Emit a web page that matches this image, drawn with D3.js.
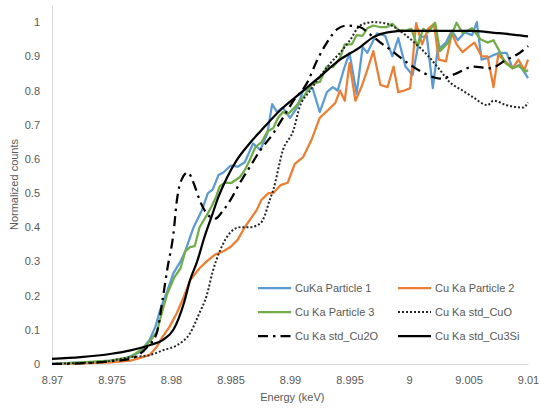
<!DOCTYPE html>
<html>
<head>
<meta charset="utf-8">
<script src="https://cdn.jsdelivr.net/npm/d3@7"></script>
<style>
  body { margin: 0; background: #fff; }
  svg text { font-family: "Liberation Sans", Arial, sans-serif; fill: #595959; }
</style>
</head>
<body>
<svg id="chart" width="540" height="408"></svg>
<script>
/* global d3 */

// [energy keV, normalized counts]
const particle1 = [
  [8.97, 0], [8.9715, 0.003], [8.9732, 0.005], [8.9749, 0.01], [8.9761, 0.015],
  [8.9774, 0.035], [8.9782, 0.07], [8.9787, 0.11], [8.9791, 0.16], [8.9797, 0.215],
  [8.9802, 0.265], [8.9808, 0.30], [8.9812, 0.33], [8.9819, 0.40], [8.9826, 0.45],
  [8.9831, 0.50], [8.9835, 0.51], [8.984, 0.553], [8.9844, 0.56], [8.985, 0.58],
  [8.9856, 0.577], [8.9862, 0.59], [8.9869, 0.645], [8.9875, 0.626], [8.9881, 0.675],
  [8.9885, 0.76], [8.9889, 0.737], [8.9894, 0.75], [8.99, 0.72], [8.9906, 0.75],
  [8.9911, 0.80], [8.9919, 0.806], [8.9925, 0.737], [8.9931, 0.795], [8.9936, 0.81],
  [8.994, 0.80], [8.9946, 0.87], [8.995, 0.91], [8.9956, 0.79], [8.9961, 0.927],
  [8.9965, 0.91], [8.9973, 0.967], [8.998, 0.96], [8.9986, 0.90], [8.9991, 0.953],
  [8.9997, 0.87], [9.0003, 0.845], [9.0009, 0.955], [9.0015, 0.96], [9.002, 0.807],
  [9.0024, 0.918], [9.0031, 0.94], [9.0036, 0.975], [9.0041, 0.947], [9.0047, 0.97],
  [9.0053, 0.962], [9.0057, 1.0], [9.0061, 0.89], [9.0066, 0.895], [9.0072, 0.905],
  [9.0076, 0.91], [9.0082, 0.91], [9.0087, 0.865], [9.0093, 0.875], [9.01, 0.836],
];

const particle2 = [
  [8.97, 0], [8.9724, 0.002], [8.9749, 0.005], [8.9766, 0.01], [8.9782, 0.026],
  [8.9788, 0.05], [8.9793, 0.08], [8.9799, 0.11], [8.9805, 0.15], [8.981, 0.19],
  [8.9816, 0.245], [8.9824, 0.28], [8.983, 0.30], [8.9837, 0.32], [8.9844, 0.33],
  [8.985, 0.342], [8.9856, 0.363], [8.9862, 0.40], [8.9868, 0.43], [8.9872, 0.45],
  [8.9876, 0.48], [8.9882, 0.50], [8.9886, 0.50], [8.9892, 0.523], [8.9898, 0.53],
  [8.9904, 0.585], [8.9911, 0.605], [8.9918, 0.655], [8.9925, 0.72], [8.9932, 0.743],
  [8.9938, 0.763], [8.9942, 0.80], [8.9946, 0.77], [8.995, 0.88], [8.9955, 0.77],
  [8.996, 0.81], [8.9965, 0.86], [8.997, 0.915], [8.9976, 0.816], [8.9982, 0.81],
  [8.9987, 0.87], [8.9991, 0.795], [8.9996, 0.80], [9.0001, 0.807], [9.0006, 0.997],
  [9.0011, 0.935], [9.0016, 0.98], [9.0021, 0.995], [9.0025, 0.89], [9.0031, 0.885],
  [9.0036, 0.968], [9.004, 0.935], [9.0045, 0.912], [9.005, 0.927], [9.0055, 0.94],
  [9.0061, 0.90], [9.0066, 0.90], [9.0071, 0.81], [9.0075, 0.905], [9.0081, 0.885],
  [9.0087, 0.865], [9.0092, 0.89], [9.0097, 0.86], [9.01, 0.89],
];

const particle3 = [
  [8.97, 0], [8.9724, 0.005], [8.9749, 0.01], [8.9766, 0.02], [8.9774, 0.04],
  [8.9782, 0.065], [8.9788, 0.094], [8.9793, 0.158], [8.9797, 0.207], [8.9803, 0.255],
  [8.9808, 0.28], [8.9812, 0.33], [8.9816, 0.342], [8.982, 0.345], [8.9824, 0.40],
  [8.983, 0.435], [8.9834, 0.46], [8.9838, 0.49], [8.9841, 0.52], [8.9845, 0.53],
  [8.9851, 0.53], [8.9858, 0.547], [8.9862, 0.567], [8.9866, 0.595], [8.9871, 0.635],
  [8.9876, 0.648], [8.9881, 0.68], [8.9886, 0.69], [8.989, 0.72], [8.9894, 0.737],
  [8.9898, 0.73], [8.9904, 0.75], [8.991, 0.775], [8.9915, 0.80], [8.9919, 0.82],
  [8.9925, 0.825], [8.9931, 0.87], [8.9936, 0.868], [8.9942, 0.895], [8.9946, 0.935],
  [8.9952, 0.935], [8.9956, 0.962], [8.9961, 0.96], [8.9965, 0.982], [8.997, 0.99],
  [8.9976, 0.985], [8.9981, 0.985], [8.9986, 0.995], [8.9991, 0.977], [8.9997, 0.975],
  [9.0002, 0.98], [9.0007, 0.93], [9.0012, 0.98], [9.0016, 0.97], [9.0022, 0.998],
  [9.0026, 0.915], [9.0033, 0.94], [9.004, 0.998], [9.0045, 0.968], [9.0053, 0.982],
  [9.006, 0.95], [9.0066, 0.94], [9.0071, 0.947], [9.0076, 0.915], [9.0081, 0.88],
  [9.0087, 0.865], [9.0092, 0.872], [9.0098, 0.855], [9.01, 0.86],
];

const stdCuO = [
  [8.97, 0], [8.9724, 0.003], [8.974, 0.005], [8.9766, 0.02], [8.9782, 0.026],
  [8.9793, 0.04], [8.9805, 0.055], [8.9816, 0.09], [8.9824, 0.15], [8.983, 0.2],
  [8.9835, 0.27], [8.9841, 0.33], [8.985, 0.385], [8.9858, 0.40], [8.9866, 0.40],
  [8.9872, 0.405], [8.9877, 0.42], [8.9883, 0.48], [8.9886, 0.51], [8.9894, 0.625],
  [8.9903, 0.685], [8.9908, 0.75], [8.9917, 0.80], [8.9925, 0.84], [8.9934, 0.88],
  [8.9942, 0.91], [8.995, 0.945], [8.9959, 0.99], [8.997, 1.0], [8.9982, 0.995],
  [8.9992, 0.975], [9.0003, 0.945], [9.0015, 0.905], [9.0026, 0.86], [9.0034, 0.825],
  [9.0045, 0.80], [9.0054, 0.78], [9.0066, 0.757], [9.0071, 0.77], [9.0082, 0.757],
  [9.0096, 0.75], [9.01, 0.765],
];

const stdCu2O = [
  [8.97, 0], [8.9724, 0.002], [8.975, 0.008], [8.9766, 0.015], [8.978, 0.05],
  [8.9788, 0.09], [8.9793, 0.19], [8.9797, 0.28], [8.9802, 0.38], [8.9805, 0.48],
  [8.9809, 0.54], [8.9814, 0.56], [8.982, 0.52], [8.9824, 0.48], [8.9833, 0.43],
  [8.9837, 0.425], [8.9843, 0.445], [8.985, 0.48], [8.9858, 0.53], [8.9866, 0.575],
  [8.9875, 0.625], [8.9886, 0.675], [8.9894, 0.72], [8.9903, 0.77], [8.9914, 0.82],
  [8.9923, 0.89], [8.9931, 0.94], [8.994, 0.98], [8.9948, 0.99], [8.9959, 0.985],
  [8.9967, 0.965], [8.9976, 0.94], [8.9984, 0.92], [8.9999, 0.88], [9.0013, 0.85],
  [9.0026, 0.835], [9.004, 0.85], [9.0054, 0.87], [9.0068, 0.865], [9.0082, 0.89],
  [9.0093, 0.91], [9.01, 0.93],
];

const stdCu3Si = [
  [8.97, 0.015], [8.9724, 0.02], [8.975, 0.03], [8.9766, 0.04], [8.9782, 0.055],
  [8.9793, 0.07], [8.9802, 0.10], [8.9811, 0.18], [8.9816, 0.245], [8.9822, 0.30],
  [8.9828, 0.37], [8.9834, 0.43], [8.984, 0.49], [8.9847, 0.545], [8.9855, 0.595],
  [8.9866, 0.645], [8.9875, 0.68], [8.9892, 0.743], [8.9908, 0.79], [8.9925, 0.84],
  [8.9942, 0.89], [8.9959, 0.927], [8.997, 0.956], [8.9982, 0.97], [8.9998, 0.974],
  [9.0051, 0.974], [9.0074, 0.968], [9.0096, 0.96], [9.01, 0.958],
];

const seriesNames = [
  'CuKa Particle 1', 'Cu Ka Particle 2', 'Cu Ka Particle 3',
  'Cu Ka std_CuO', 'Cu Ka std_Cu2O', 'Cu Ka std_Cu3Si',
];

const xTicks = [8.97, 8.975, 8.98, 8.985, 8.99, 8.995, 9, 9.005, 9.01];
const yTicks = [0, 0.1, 0.2, 0.3, 0.4, 0.5, 0.6, 0.7, 0.8, 0.9, 1];

// styling per series (Excel look)
const series = [
  { name: seriesNames[0], values: particle1, color: '#5b9bd5', dash: null, curve: d3.curveLinear },
  { name: seriesNames[1], values: particle2, color: '#ed7d31', dash: null, curve: d3.curveLinear },
  { name: seriesNames[2], values: particle3, color: '#70ad47', dash: null, curve: d3.curveLinear },
  { name: seriesNames[3], values: stdCuO, color: '#262626', dash: '2,2', curve: d3.curveMonotoneX, width: 2 },
  { name: seriesNames[4], values: stdCu2O, color: '#000', dash: '10,5,2.5,5', curve: d3.curveMonotoneX },
  { name: seriesNames[5], values: stdCu3Si, color: '#000', dash: null, curve: d3.curveMonotoneX },
];

const margin = { top: 5, right: 12, bottom: 44, left: 52 };
const width = 540 - margin.left - margin.right;
const height = 408 - margin.top - margin.bottom;

const svg = d3.select('#chart');
const g = svg.append('g')
  .attr('transform', `translate(${margin.left},${margin.top})`);

const x = d3.scaleLinear().domain([8.97, 9.01]).range([0, width]);
const y = d3.scaleLinear().domain([0, 1.05]).range([height, 0]);

// axes
const xAxis = g.append('g')
  .attr('transform', `translate(0,${height})`)
  .call(d3.axisBottom(x).tickValues(xTicks).tickSize(0).tickPadding(12)
    .tickFormat(d => String(+d.toFixed(3))));

const yAxis = g.append('g')
  .call(d3.axisLeft(y).tickValues(yTicks).tickSize(0).tickPadding(12)
    .tickFormat(d => String(+d.toFixed(1))));

[xAxis, yAxis].forEach(ax => {
  ax.select('.domain').attr('stroke', '#d9d9d9').attr('stroke-width', 1);
  ax.selectAll('text').attr('font-size', 11).attr('fill', '#595959')
    .style('font-family', '"Liberation Sans", Arial, sans-serif');
});

// axis titles
svg.append('text')
  .attr('x', margin.left + x(8.9902))
  .attr('y', 401)
  .attr('text-anchor', 'middle')
  .attr('font-size', 11)
  .text('Energy (keV)');

svg.append('text')
  .attr('transform', `translate(18,${margin.top + height / 2}) rotate(-90)`)
  .attr('text-anchor', 'middle')
  .attr('font-size', 11)
  .text('Normalized counts');

// lines
const lineGroup = g.append('g').attr('class', 'lines');
series.forEach(s => {
  const line = d3.line()
    .curve(s.curve)
    .x(d => x(d[0]))
    .y(d => y(d[1]));
  lineGroup.append('path')
    .datum(s.values)
    .attr('fill', 'none')
    .attr('stroke', s.color)
    .attr('stroke-width', s.width || 2.25)
    .attr('stroke-linejoin', 'round')
    .attr('stroke-dasharray', s.dash)
    .attr('d', line);
});

// legend, two columns
const legend = svg.append('g').attr('class', 'legend');
const legendCols = [258, 398];
const legendRows = [288, 312, 336];
series.forEach((s, i) => {
  const lx = legendCols[i % 2];
  const ly = legendRows[Math.floor(i / 2)];
  const item = legend.append('g').attr('transform', `translate(${lx},${ly})`);
  item.append('line')
    .attr('x1', 0).attr('x2', 33)
    .attr('stroke', s.color)
    .attr('stroke-width', s.width || 2.25)
    .attr('stroke-dasharray', s.dash);
  item.append('text')
    .attr('x', i % 2 === 0 ? 37 : 37)
    .attr('dy', '0.35em')
    .attr('font-size', 11)
    .text(s.name);
});
</script>
</body>
</html>
